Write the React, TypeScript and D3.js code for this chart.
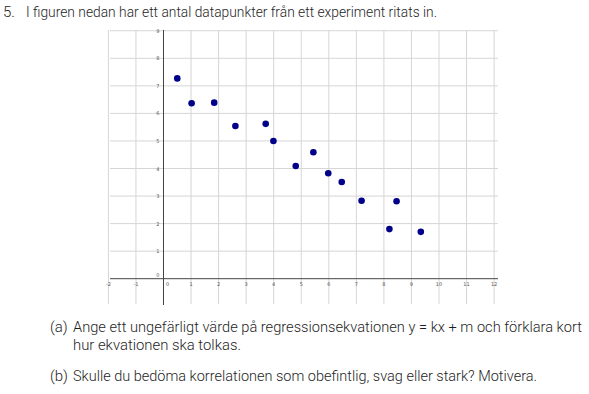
import React, { useEffect, useRef } from "react";
import * as d3 from "d3";

// measured points from the experiment
const xValues = [0.5, 1.02, 1.84, 2.61, 3.71, 3.99, 4.8, 5.44, 5.98, 6.47, 7.19, 8.2, 8.46, 9.34];
const yValues = [7.27, 6.37, 6.39, 5.54, 5.62, 5.0, 4.09, 4.59, 3.83, 3.51, 2.83, 1.8, 2.81, 1.7];

const xTicks = [-2, -1, 0, 1, 2, 3, 4, 5, 6, 7, 8, 9, 10, 11, 12];
const yTicks = [0, 1, 2, 3, 4, 5, 6, 7, 8, 9];

const heading = "I figuren nedan har ett antal datapunkter från ett experiment ritats in.";
const partA = ["Ange ett ungefärligt värde på regressionsekvationen y = kx + m och förklara kort", "hur ekvationen ska tolkas."];
const partB = "Skulle du bedöma korrelationen som obefintlig, svag eller stark? Motivera.";

export default function App() {
    const svgRef = useRef<SVGSVGElement | null>(null);

    useEffect(() => {
        const svg = d3.select(svgRef.current);
        svg.selectAll("*").remove();

        const w = 589;
        const h = 394;
        svg.attr("width", w).attr("height", h);

        var unit = 27.55;
        var x0 = 163.5;
        var y0 = 278.7;

        const x = d3.scaleLinear().domain([0, 12]).range([x0, x0 + 12 * unit]);
        const y = d3.scaleLinear().domain([0, 9]).range([y0, y0 - 9 * unit]);

        var gridColor = "#d6d6d6";
        var textColor = "#1e1e1e";
        var font = "Roboto, 'Open Sans', sans-serif";

        const g = svg.append("g");

        // grid
        g.selectAll(".vgrid")
            .data(xTicks)
            .enter().append("line")
            .attr("class", "vgrid")
            .attr("x1", d => x(d)).attr("x2", d => x(d))
            .attr("y1", 30).attr("y2", 304)
            .style("stroke", gridColor)
            .style("stroke-width", 1);

        g.selectAll(".hgrid")
            .data(yTicks.filter(d => d !== 0))
            .enter().append("line")
            .attr("class", "hgrid")
            .attr("x1", 110).attr("x2", 498)
            .attr("y1", d => y(d)).attr("y2", d => y(d))
            .style("stroke", gridColor)
            .style("stroke-width", 1);

        // axes
        g.append("line")
            .attr("x1", 110).attr("x2", 498)
            .attr("y1", y(0)).attr("y2", y(0))
            .style("stroke", "#444").style("stroke-width", 1);
        g.append("line")
            .attr("x1", x(0)).attr("x2", x(0))
            .attr("y1", 30).attr("y2", 305)
            .style("stroke", "#444").style("stroke-width", 1);

        // tick labels
        g.selectAll(".xlab")
            .data(xTicks)
            .enter().append("text")
            .attr("class", "xlab")
            .attr("x", d => d === 0 ? x(0) + 4 : x(d))
            .attr("y", y(0) + 7.5)
            .attr("text-anchor", "middle")
            .style("font-family", "'DejaVu Sans', sans-serif")
            .style("font-size", "5px")
            .style("fill", "#555")
            .text(d => String(d));

        g.selectAll(".ylab")
            .data(yTicks)
            .enter().append("text")
            .attr("class", "ylab")
            .attr("x", x(0) - 4)
            .attr("y", d => y(d) + (d === 0 ? -2 : 2))
            .attr("text-anchor", "end")
            .style("font-family", "'DejaVu Sans', sans-serif")
            .style("font-size", "5px")
            .style("fill", "#555")
            .text(d => String(d));

        // points
        g.selectAll(".dot")
            .data(xValues.map((v, i) => [v, yValues[i]]))
            .enter().append("circle")
            .attr("class", "dot")
            .attr("cx", d => x(d[0]))
            .attr("cy", d => y(d[1]))
            .attr("r", 3.3)
            .style("fill", "#00008b");

        // question text
        let addText = (str, tx, ty, len) => {
            const t = svg.append("text")
                .attr("x", tx).attr("y", ty)
                .style("font-family", font)
                .style("font-weight", 300)
                .style("font-size", "15px")
                .style("fill", textColor)
                .text(str);
            if (len) t.attr("textLength", len).attr("lengthAdjust", "spacingAndGlyphs");
            return t;
        };

        addText("5.", 3, 17, null);
        addText(heading, 26, 17, 411);
        addText("(a)", 50, 332, null);
        addText(partA[0], 73, 332, 509);
        addText(partA[1], 73, 350, 168);
        addText("(b)", 50, 381, null);
        addText(partB, 73, 381, 464);
    }, []);

    return (
        <svg ref={svgRef} style={{ position: "absolute", left: 0, top: 0 }} />
    );
}
